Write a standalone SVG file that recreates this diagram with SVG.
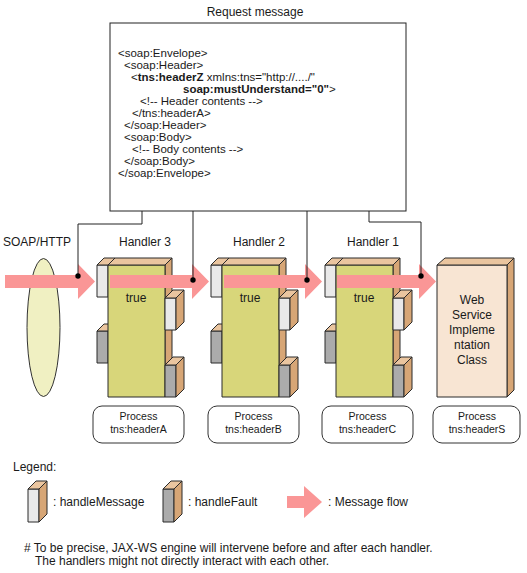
<svg xmlns="http://www.w3.org/2000/svg" xmlns:xlink="http://www.w3.org/1999/xlink" width="527" height="573" viewBox="0 0 527 573">
<style>
text{font-family:"Liberation Sans",Arial,sans-serif;font-size:12px;fill:#1a1a1a}
.c{text-anchor:middle}
.b{font-weight:bold}
.code{font-size:11.5px}
.p{font-size:10.5px}
.ol{stroke:#2a2a2a;stroke-width:1;stroke-linejoin:round}
.body{fill:#D8D67A}
.top{fill:#EAC59F}
.side{fill:#D7A676}
.msg{fill:#E9E9E9}
.flt{fill:#ABABAB}
.flow{fill:#FA9696}
.conn{fill:none;stroke:#222;stroke-width:1}
.proc{fill:#fff;stroke:#333;stroke-width:1}
</style>
<defs>
<marker id="dot" viewBox="0 0 6 6" refX="3" refY="3" markerWidth="6" markerHeight="6" markerUnits="userSpaceOnUse"><circle cx="3" cy="3" r="2.7" fill="#000"/></marker>
<g id="handlerShape">
<rect class="msg ol" x="-11" y="265" width="11" height="32"/>
<polygon class="top ol" points="-11,265 -4,258 7,258 0,265"/>
<rect class="flt ol" x="-11" y="331" width="11" height="32"/>
<polygon class="top ol" points="-11,331 -4,324 7,324 0,331"/>
<polygon class="side ol" points="57,265 64,258 64,390 57,397"/>
<rect class="body ol" x="0" y="265" width="57" height="132"/>
<polygon class="top ol" points="0,265 7,258 64,258 57,265"/>
<rect class="msg ol" x="57" y="298" width="11" height="32"/>
<polygon class="top ol" points="57,298 65,290 76,290 68,298"/>
<polygon class="side ol" points="68,298 76,290 76,322 68,330"/>
<rect class="flt ol" x="57" y="365" width="11" height="32"/>
<polygon class="top ol" points="57,365 65,357 76,357 68,365"/>
<polygon class="side ol" points="68,365 76,357 76,389 68,397"/>
</g>
</defs>
<rect width="527" height="573" fill="#fff"/>

<g id="request-message">
<text class="c" x="255" y="16">Request message</text>
<rect x="110" y="23" width="296" height="188" fill="#fff" stroke="#222" stroke-width="1"/>
<g class="code">
<text class="code" x="118" y="57">&lt;soap:Envelope&gt;</text>
<text class="code" x="124" y="69">&lt;soap:Header&gt;</text>
<text class="code" x="131" y="81">&lt;<tspan class="b">tns:headerZ</tspan> xmlns:tns="http://..../"</text>
<text class="code" x="183" y="93"><tspan class="b">soap:mustUnderstand="0"</tspan>&gt;</text>
<text class="code" x="140" y="105">&lt;!-- Header contents --&gt;</text>
<text class="code" x="132" y="117">&lt;/tns:headerA&gt;</text>
<text class="code" x="124" y="129">&lt;/soap:Header&gt;</text>
<text class="code" x="124" y="141">&lt;soap:Body&gt;</text>
<text class="code" x="132" y="153">&lt;!-- Body contents --&gt;</text>
<text class="code" x="124" y="165">&lt;/soap:Body&gt;</text>
<text class="code" x="118" y="177">&lt;/soap:Envelope&gt;</text>
</g>
</g>

<g id="soap-http">
<text x="3" y="246">SOAP/HTTP</text>
<ellipse cx="43.5" cy="327.5" rx="16.5" ry="69" fill="#F0F0C2" stroke="#333" stroke-width="1"/>
</g>

<g id="handler3">
<use xlink:href="#handlerShape" href="#handlerShape" transform="translate(108,0)"/>
<text class="c" x="145" y="246">Handler 3</text>
<text class="c" x="136" y="302">true</text>
</g>
<g id="handler2">
<use xlink:href="#handlerShape" href="#handlerShape" transform="translate(222,0)"/>
<text class="c" x="259" y="246">Handler 2</text>
<text class="c" x="250" y="302">true</text>
</g>
<g id="handler1">
<use xlink:href="#handlerShape" href="#handlerShape" transform="translate(336,0)"/>
<text class="c" x="373" y="246">Handler 1</text>
<text class="c" x="364" y="302">true</text>
</g>

<g id="web-service">
<polygon class="side ol" points="507,265 514,258 514,390 507,397"/>
<rect class="ol" x="437" y="265" width="70" height="132" fill="#F8E5D3"/>
<polygon class="top ol" points="437,265 445,258 514,258 507,265"/>
<text class="c" x="472" y="304">Web</text>
<text class="c" x="472" y="319">Service</text>
<text class="c" x="472" y="334">Impleme</text>
<text class="c" x="472" y="349">ntation</text>
<text class="c" x="472" y="364">Class</text>
</g>

<g id="message-flow">
<path class="flow" d="M5,275 H78 V264 L95,281.5 L78,299 V288 H5 Z"/>
<path class="flow" d="M110,275 H192 V264 L209,281.5 L192,299 V288 H110 Z"/>
<path class="flow" d="M224,275 H305 V264 L322,281.5 L305,299 V288 H224 Z"/>
<path class="flow" d="M337,275 H419 V264 L436,281.5 L419,299 V288 H337 Z"/>
</g>

<g id="connectors">
<path class="conn" d="M142,211 V224 H78 V276" marker-end="url(#dot)"/>
<path class="conn" d="M193,211 V280" marker-end="url(#dot)"/>
<path class="conn" d="M307,211 V280" marker-end="url(#dot)"/>
<path class="conn" d="M369,211 V222 H421 V276" marker-end="url(#dot)"/>
</g>

<g id="process-a">
<rect class="proc" x="93" y="406" width="91" height="37" rx="9"/>
<text class="c p" x="138.5" y="420">Process</text>
<text class="c p" x="138.5" y="433">tns:headerA</text>
</g>
<g id="process-b">
<rect class="proc" x="208" y="406" width="91" height="37" rx="9"/>
<text class="c p" x="253.5" y="420">Process</text>
<text class="c p" x="253.5" y="433">tns:headerB</text>
</g>
<g id="process-c">
<rect class="proc" x="322" y="406" width="91" height="37" rx="9"/>
<text class="c p" x="367.5" y="420">Process</text>
<text class="c p" x="367.5" y="433">tns:headerC</text>
</g>
<g id="process-s">
<rect class="proc" x="433" y="406" width="87" height="37" rx="9"/>
<text class="c p" x="477" y="420">Process</text>
<text class="c p" x="477" y="433">tns:headerS</text>
</g>

<g id="legend">
<text x="13" y="471">Legend:</text>
<rect class="msg ol" x="28" y="489" width="11" height="33"/>
<polygon class="top ol" points="28,489 36,481 47,481 39,489"/>
<polygon class="side ol" points="39,489 47,481 47,514 39,522"/>
<text x="53" y="506">: handleMessage</text>
<rect class="flt ol" x="163" y="489" width="11" height="33"/>
<polygon class="top ol" points="163,489 171,481 182,481 174,489"/>
<polygon class="side ol" points="174,489 182,481 182,514 174,522"/>
<text x="188" y="506">: handleFault</text>
<path class="flow" d="M287,496 H304 V486 L322,502 L304,518 V508 H287 Z"/>
<text x="328" y="506">: Message flow</text>
</g>

<g id="footnote">
<text x="24" y="552"># To be precise, JAX-WS engine will intervene before and after each handler.</text>
<text x="35" y="565">The handlers might not directly interact with each other.</text>
</g>
</svg>
